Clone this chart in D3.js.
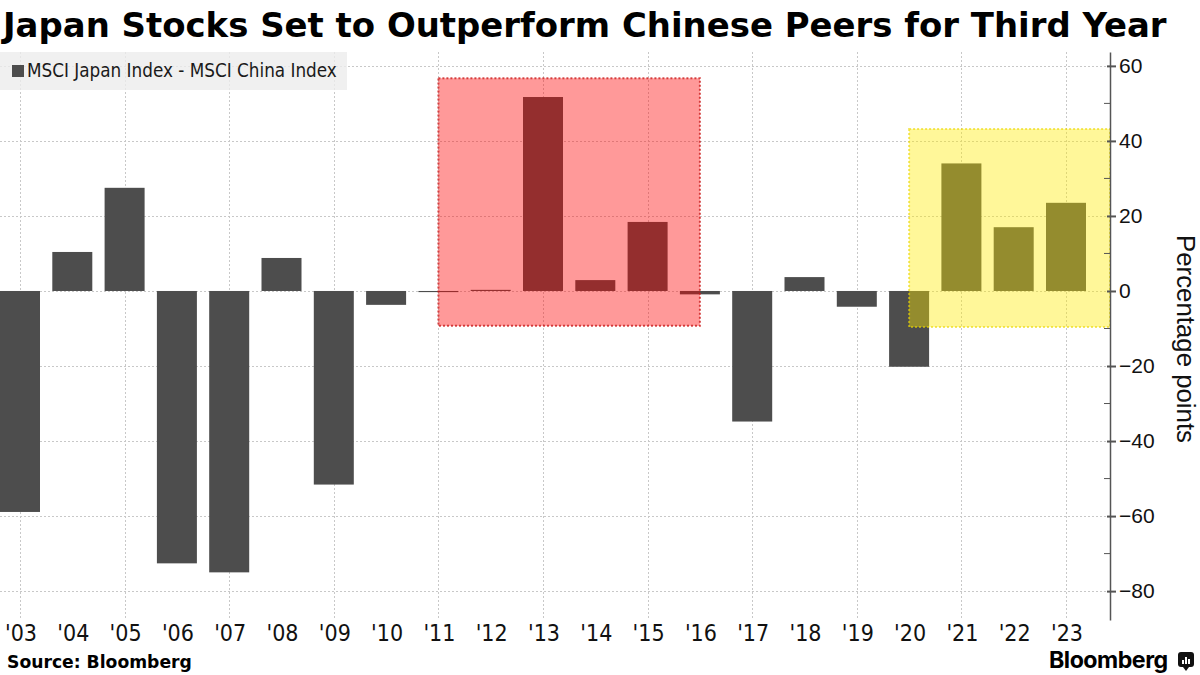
<!DOCTYPE html>
<html>
<head>
<meta charset="utf-8">
<script src="https://cdn.jsdelivr.net/npm/d3@7"></script>
<style>
  body { margin: 0; background: #fff; }
  svg { display: block; }
</style>
</head>
<body>
<div id="chart"></div>
<script>
// data
var years = [2003, 2004, 2005, 2006, 2007, 2008, 2009, 2010, 2011, 2012, 2013,
             2014, 2015, 2016, 2017, 2018, 2019, 2020, 2021, 2022, 2023];
var yearLabels = ["'03", "'04", "'05", "'06", "'07", "'08", "'09", "'10", "'11", "'12", "'13",
                  "'14", "'15", "'16", "'17", "'18", "'19", "'20", "'21", "'22", "'23"];
var spread = [-58.9, 10.4, 27.5, -72.6, -75.0, 8.8, -51.6, -3.7, -0.3, 0.3, 51.7,
              2.9, 18.4, -0.9, -34.8, 3.7, -4.2, -20.2, 34.0, 17.0, 23.5];
var yTicks = [-80, -60, -40, -20, 0, 20, 40, 60];
var yMinor = [-70, -50, -30, -10, 10, 30, 50];
var gridYears = [2003, 2005, 2007, 2009, 2011, 2013, 2015, 2017, 2019, 2021, 2023];
// highlighted periods: year span and value span
var hlFrom = [2011, 2020];
var hlTo = [2016, 2024];
var hlTop = [56.7, 43.2];
var hlBottom = [-9.3, -9.6];

var title = 'Japan Stocks Set to Outperform Chinese Peers for Third Year';
var seriesName = 'MSCI Japan Index - MSCI China Index';

var W = 1200, H = 675;
var plotLeft = 0, plotRight = 1110, plotTop = 52, plotBottom = 620;
var barW = 40;
var barColor = '#4d4d4d';
var hlFill = ['rgba(255,0,0,0.4)', 'rgba(255,235,0,0.4)'];
var hlStroke = ['rgba(200,20,20,0.75)', 'rgba(235,215,0,0.6)'];

var svg = d3.select('#chart')
    .append('svg')
    .attr('width', W)
    .attr('height', H);

var x = d3.scaleLinear().domain([2003, 2023]).range([20, 1066]);
var y = d3.scaleLinear().domain([-87.7, 63.7]).range([plotBottom, plotTop]);

// fit a text element to a target width by changing its font size
function fit(sel, width) {
    var len = sel.node().getComputedTextLength();
    var fs = parseFloat(sel.attr('font-size'));
    sel.attr('font-size', fs * width / len);
}

// grid
var grid = svg.append('g')
    .attr('stroke', '#c8c8c8')
    .attr('stroke-dasharray', '2,2')
    .attr('stroke-width', 1);

grid.selectAll('line.h')
    .data(yTicks)
    .enter()
    .append('line')
    .attr('x1', plotLeft)
    .attr('x2', plotRight)
    .attr('y1', d => Math.round(y(d)) + 0.5)
    .attr('y2', d => Math.round(y(d)) + 0.5);

grid.selectAll('line.v')
    .data(gridYears)
    .enter()
    .append('line')
    .attr('x1', d => Math.round(x(d)) + 0.5)
    .attr('x2', d => Math.round(x(d)) + 0.5)
    .attr('y1', plotTop)
    .attr('y2', plotBottom);

// bars
svg.append('g')
    .selectAll('rect')
    .data(spread)
    .enter()
    .append('rect')
    .attr('x', (d, i) => x(years[i]) - barW / 2)
    .attr('width', barW)
    .attr('y', d => y(Math.max(0, d)))
    .attr('height', d => Math.max(1, Math.abs(y(d) - y(0))))
    .attr('fill', barColor);

// highlight boxes on top of the bars
hlFrom.forEach((from, i) => {
    var x0 = x(from);
    var x1 = Math.min(x(hlTo[i]), plotRight);
    svg.append('rect')
        .attr('x', x0)
        .attr('y', y(hlTop[i]))
        .attr('width', x1 - x0)
        .attr('height', y(hlBottom[i]) - y(hlTop[i]))
        .attr('fill', hlFill[i])
        .attr('stroke', hlStroke[i])
        .attr('stroke-width', 2)
        .attr('stroke-dasharray', '2,2');
});

// legend
var legend = svg.append('g');
legend.append('rect')
    .attr('x', 0)
    .attr('y', 52)
    .attr('width', 347)
    .attr('height', 38)
    .attr('fill', 'rgba(236,236,236,0.8)');
legend.append('rect')
    .attr('x', 12)
    .attr('y', 65)
    .attr('width', 12)
    .attr('height', 12)
    .attr('fill', barColor);
var legendText = legend.append('text')
    .attr('x', 27)
    .attr('y', 77)
    .attr('font-family', 'DejaVu Sans Condensed, DejaVu Sans, sans-serif')
    .attr('font-size', 16)
    .attr('fill', '#1a1a1a')
    .text(seriesName);
fit(legendText, 310);

// y axis on the right
var yAxis = svg.append('g')
    .attr('transform', `translate(${plotRight},0)`)
    .call(d3.axisRight(y).tickValues(yTicks).tickSize(6).tickSizeOuter(0).tickPadding(3));
yAxis.select('.domain')
    .attr('stroke', '#555')
    .attr('stroke-width', 1.5);
yAxis.selectAll('.tick line')
    .attr('x1', -3)
    .attr('stroke', '#555')
    .attr('stroke-width', 2);
yAxis.selectAll('.tick text')
    .attr('font-family', 'Liberation Sans, Arial, sans-serif')
    .attr('font-size', 21)
    .attr('fill', '#111');

svg.append('g')
    .selectAll('line')
    .data(yMinor)
    .enter()
    .append('line')
    .attr('x1', plotRight - 6)
    .attr('x2', plotRight)
    .attr('y1', d => y(d))
    .attr('y2', d => y(d))
    .attr('stroke', '#555')
    .attr('stroke-width', 1);

var yTitle = svg.append('text')
    .attr('transform', `translate(1177,${(plotTop + plotBottom) / 2 + 3}) rotate(90)`)
    .attr('text-anchor', 'middle')
    .attr('font-family', 'Liberation Sans, Arial, sans-serif')
    .attr('font-size', 23)
    .attr('fill', '#111')
    .text('Percentage points');
fit(yTitle, 208);

// x labels
svg.append('g')
    .selectAll('text')
    .data(yearLabels)
    .enter()
    .append('text')
    .attr('x', (d, i) => x(years[i]) + 1)
    .attr('y', 641)
    .attr('text-anchor', 'middle')
    .attr('font-family', 'Liberation Sans Narrow, DejaVu Sans Condensed, sans-serif')
    .attr('font-size', 23)
    .attr('fill', '#111')
    .text(d => d);

// title
var titleText = svg.append('text')
    .attr('x', 3)
    .attr('y', 37)
    .attr('font-family', 'DejaVu Sans, sans-serif')
    .attr('font-weight', 'bold')
    .attr('font-size', 34)
    .attr('fill', '#000')
    .text(title);
fit(titleText, 1164);

// footer
var source = svg.append('text')
    .attr('x', 7)
    .attr('y', 668)
    .attr('font-family', 'DejaVu Sans, sans-serif')
    .attr('font-weight', 'bold')
    .attr('font-size', 16)
    .attr('fill', '#000')
    .text('Source: Bloomberg');
fit(source, 185);

var brand = svg.append('text')
    .attr('x', 1049)
    .attr('y', 668)
    .attr('font-family', 'Inter, Roboto, sans-serif')
    .attr('font-weight', 'bold')
    .attr('font-size', 20)
    .attr('fill', '#000')
    .attr('letter-spacing', -0.5)
    .text('Bloomberg');
fit(brand, 118);

var icon = svg.append('g').attr('transform', 'translate(1178,652)');
icon.append('rect')
    .attr('width', 16)
    .attr('height', 15)
    .attr('rx', 3)
    .attr('fill', '#111');
icon.append('path')
    .attr('d', 'M5,15 L8,19 L11,15 Z')
    .attr('fill', '#111');
[[4, 8], [7, 5], [10, 7]].forEach(b => {
    icon.append('rect')
        .attr('x', b[0])
        .attr('y', b[1])
        .attr('width', 2)
        .attr('height', 12 - b[1])
        .attr('fill', '#fff');
});
</script>
</body>
</html>
